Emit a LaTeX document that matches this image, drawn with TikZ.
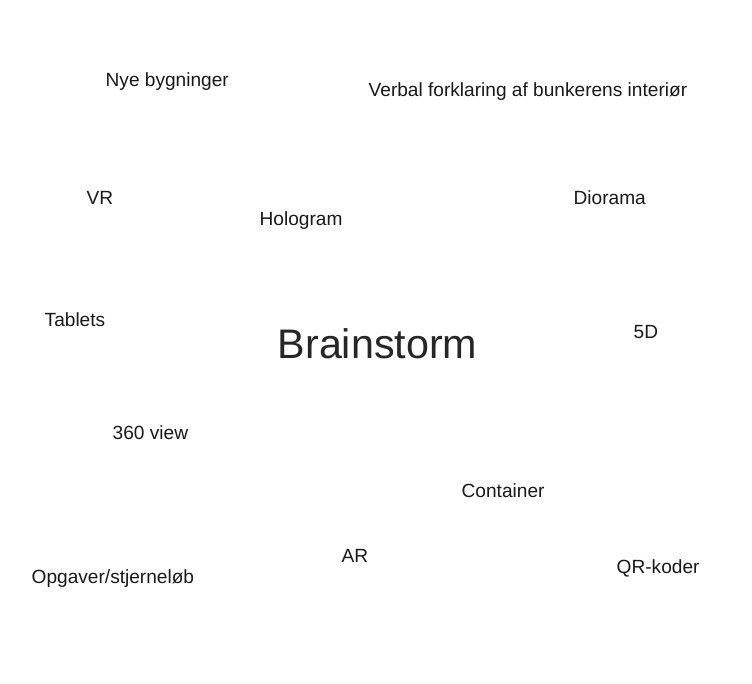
\documentclass[tikz,border=0pt]{standalone}
\usepackage{fontspec}
\setmainfont{Liberation Sans}
\begin{document}
\begin{tikzpicture}[x=1pt,y=-1pt,
  idea/.style={anchor=base west,inner sep=0pt,font=\fontsize{19.1}{22}\selectfont,text=black!90},
  title/.style={anchor=base west,inner sep=0pt,font=\fontsize{41.3}{48}\selectfont,text=black!85}]
\useasboundingbox[fill=white] (0,0) rectangle (752,684);
\node[title] (c) at (277.5,359) {Brainstorm};
\node[idea] (n1) at (105.5,87) {Nye bygninger};
\node[idea] (n2) at (368.5,97) {Verbal forklaring af bunkerens interiør};
\node[idea] (n3) at (86.5,205) {VR};
\node[idea] (n4) at (259.5,226) {Hologram};
\node[idea] (n5) at (573.5,205) {Diorama};
\node[idea] (n6) at (44.5,327) {Tablets};
\node[idea] (n7) at (633.5,339) {5D};
\node[idea] (n8) at (112.5,439) {360 view};
\node[idea] (n9) at (461.5,497) {Container};
\node[idea] (n10) at (341.5,562) {AR};
\node[idea] (n11) at (31.5,583) {Opgaver/stjerneløb};
\node[idea] (n12) at (616.5,573) {QR-koder};
\end{tikzpicture}
\end{document}
